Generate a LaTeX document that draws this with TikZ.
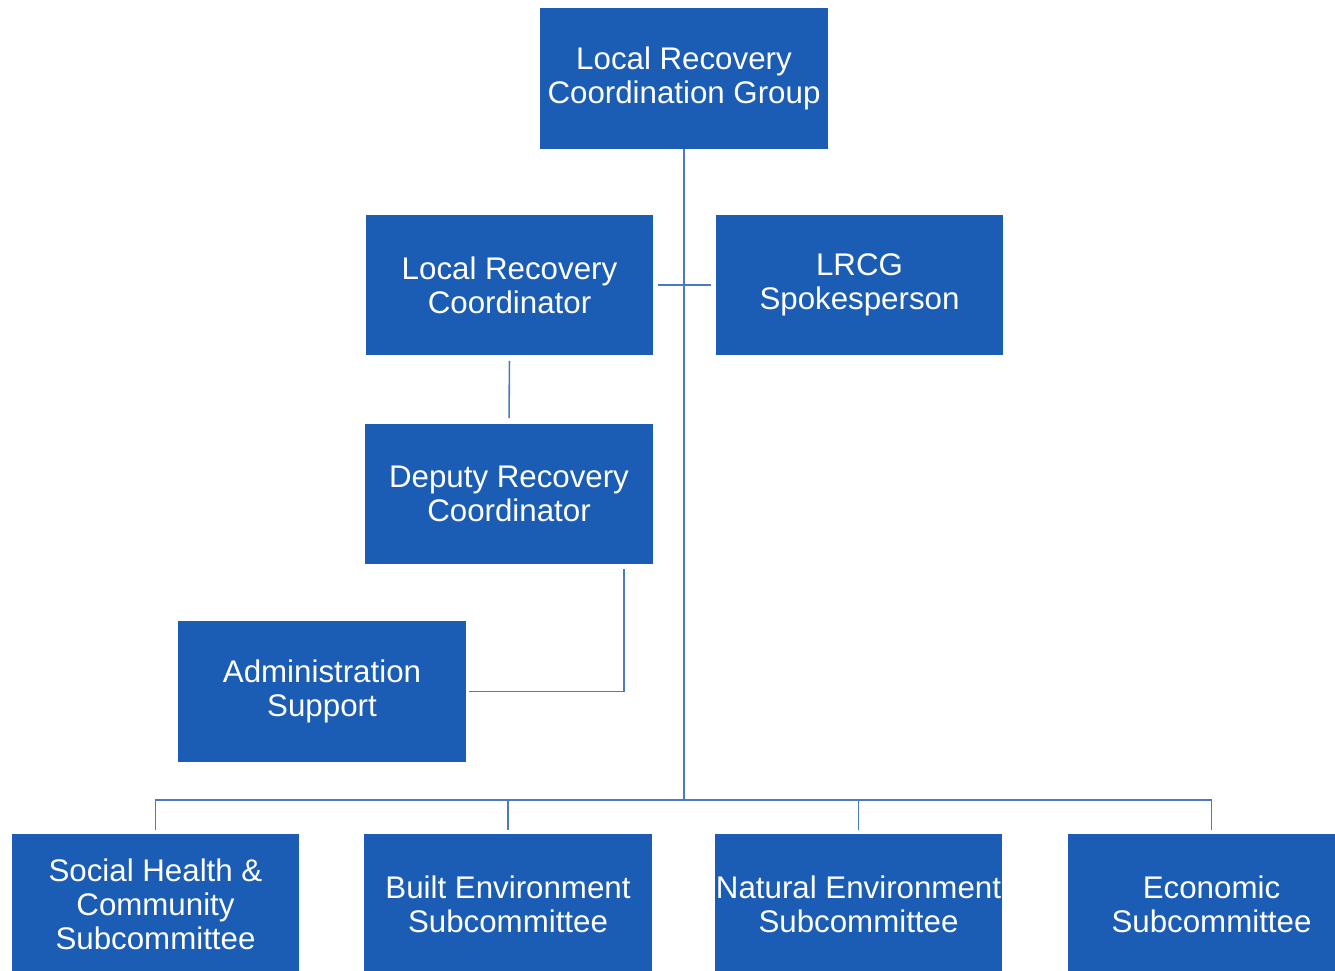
\documentclass[tikz,border=0pt]{standalone}
\usepackage{fontspec}
\setmainfont{Liberation Sans}
\definecolor{boxblue}{RGB}{27,92,181}
\definecolor{lineblue}{RGB}{74,122,198}
\tikzset{
    unitbox/.style = {draw = none, fill = boxblue, text = white, align = center,
        minimum width = 5.75cm, minimum height = 2.82cm, inner sep = 0pt,
        font = \fontsize{17.8}{19.3}\selectfont},
    link/.style = {draw = lineblue, line width = 0.9pt}
}
\begin{document}
\begin{tikzpicture}[x = 0.02cm, y = -0.02cm]
        \useasboundingbox (0,0) rectangle (1335,970);
        \node [unitbox] (lrcg) at (684,78.5) {Local Recovery\\Coordination Group};
        \node [unitbox] (coord) at (509.5,285) {Local Recovery\\Coordinator};
        \node [unitbox] (spokes) at (859.5,285) {LRCG\\Spokesperson};
        \node [unitbox] (deputy) at (509,494) {Deputy Recovery\\Coordinator};
        \node [unitbox] (admin) at (322,691.5) {Administration\\Support};
        \node [unitbox] (social) at (155.5,904) {Social Health \&\\Community\\Subcommittee};
        \node [unitbox] (built) at (508,904) {Built Environment\\Subcommittee};
        \node [unitbox] (natural) at (858.5,904) {Natural Environment\\Subcommittee};
        \node [unitbox] (econ) at (1211.5,904) {Economic\\Subcommittee};
        \coordinate (bus) at (684,800);
        \begin{scope}[link]
            \draw (lrcg.south) -- (bus);
            \draw [shorten <= 3\pgflinewidth, shorten >= 3\pgflinewidth] (coord.east) -- (spokes.west);
            \draw [shorten <= 0.1cm, shorten >= 0.1cm] (coord.south) -- (deputy.north);
            \draw [shorten <= 0.08cm, shorten >= 0.06cm] ([xshift = -0.58cm]deputy.south east) |- (admin.east);
            \foreach \sub in {social, built, natural, econ}
                \draw [shorten >= 0.06cm] (bus) -| (\sub.north);
        \end{scope}
    \end{tikzpicture}
\end{document}
